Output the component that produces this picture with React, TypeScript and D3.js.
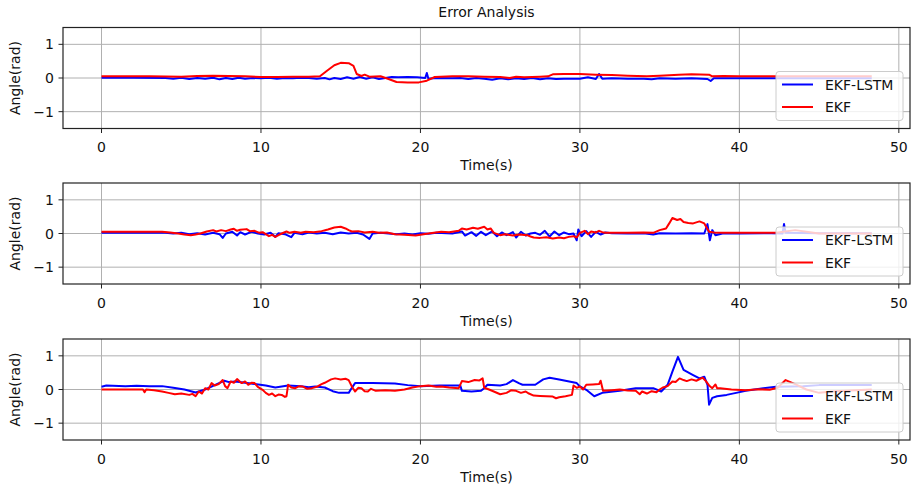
import * as d3 from 'd3';

type Pt = [number, number];

// time (s), angle error (rad)
const lstm1: Pt[] = [[0,0.01],[2,0.01],[4,0.0],[4.5,-0.02],[5,0.01],[5.5,-0.03],[6,0.0],[6.5,-0.02],[7,0.01],[7.4,-0.04],[7.8,0.0],[8.2,-0.03],[8.6,0.01],[9,-0.02],[9.5,0.0],[10,-0.01],[10.5,0.01],[11,-0.02],[11.5,0.0],[12,-0.01],[12.5,0.01],[13,0.0],[13.5,-0.02],[14,0.0],[14.3,-0.04],[14.6,0.0],[15,-0.03],[15.4,0.02],[15.8,-0.02],[16.2,0.03],[16.6,-0.02],[17,0.02],[17.4,-0.03],[17.8,0.0],[18.2,0.03],[18.6,0.02],[19.2,0.03],[19.8,0.02],[20.3,0.0],[20.4,0.15],[20.5,-0.02],[21,0.0],[22,-0.01],[22.5,0.0],[23,-0.03],[23.5,0.0],[24,-0.02],[24.5,-0.05],[25,-0.01],[25.5,-0.04],[26,-0.01],[26.5,-0.03],[27,0.0],[27.5,-0.04],[28,-0.01],[28.5,-0.03],[29,-0.02],[30,-0.02],[30.5,0.02],[31,-0.03],[31.2,0.12],[31.4,-0.02],[32,-0.01],[33,-0.02],[34,-0.02],[34.5,-0.04],[35,-0.01],[36,-0.02],[37,-0.01],[38,-0.03],[38.2,-0.09],[38.4,-0.01],[39,-0.01],[40,-0.01],[42,-0.01],[45,-0.01],[48.3,-0.01]];
const ekf1: Pt[] = [[0,0.05],[3,0.05],[5,0.04],[6,0.06],[7,0.07],[8,0.06],[9,0.05],[10,0.03],[11,0.03],[12,0.04],[13,0.04],[13.7,0.05],[14.1,0.2],[14.6,0.38],[15.0,0.45],[15.5,0.44],[15.8,0.36],[16.0,0.12],[16.3,0.06],[16.5,0.1],[16.8,0.04],[17.5,0.05],[18.0,-0.03],[18.5,-0.12],[19.2,-0.13],[19.9,-0.13],[20.4,-0.08],[20.9,0.03],[22,0.05],[23,0.05],[24,0.04],[25,0.03],[25.6,0.0],[26,0.04],[26.5,0.02],[27.5,0.04],[28.0,0.05],[28.3,0.11],[29,0.12],[30,0.12],[31,0.1],[32,0.09],[33,0.07],[34.2,0.05],[35,0.07],[36.2,0.1],[37,0.11],[38.1,0.1],[38.3,0.05],[39,0.06],[40,0.05],[42,0.05],[45,0.05],[48.3,0.05]];

const lstm2: Pt[] = [[0,0.02],[2,0.02],[4,0.02],[4.5,0.0],[5,0.02],[5.5,-0.02],[6,0.01],[6.5,-0.03],[7,0.02],[7.4,-0.02],[7.6,-0.13],[7.8,0.0],[8.2,0.05],[8.5,-0.06],[8.7,0.04],[9,-0.03],[9.4,0.05],[9.8,0.0],[10.2,-0.03],[10.6,0.02],[10.9,-0.1],[11.1,0.01],[11.5,-0.02],[11.9,-0.11],[12.1,0.02],[12.6,-0.02],[13,0.03],[13.5,0.0],[14,0.02],[14.5,-0.02],[15,0.03],[15.5,0.0],[16,0.02],[16.4,-0.03],[16.8,-0.16],[17.0,0.0],[17.5,0.02],[18,0.0],[18.5,-0.02],[19,0.0],[19.5,-0.03],[20,0.01],[20.5,-0.01],[21,0.02],[22,0.0],[22.6,0.06],[22.8,-0.06],[23.2,0.04],[23.5,-0.07],[23.8,0.05],[24.1,-0.05],[24.5,0.06],[24.8,-0.08],[25.1,0.03],[25.4,-0.05],[25.8,0.04],[26.0,-0.12],[26.3,0.05],[26.6,-0.06],[26.9,0.0],[27.2,0.02],[27.5,-0.04],[27.8,0.08],[28.1,-0.09],[28.4,0.06],[28.7,-0.05],[29.0,0.03],[29.3,-0.02],[29.6,0.0],[29.8,-0.2],[29.9,0.12],[30.1,-0.08],[30.4,0.07],[30.7,-0.1],[31.0,0.05],[31.3,-0.03],[31.6,0.03],[32,0.01],[33,0.0],[34,0.01],[34.6,-0.03],[35,0.01],[36,0.0],[37,0.01],[37.8,0.0],[38.0,0.28],[38.15,-0.2],[38.3,0.1],[38.5,-0.05],[39,0.01],[40,0.0],[42,0.01],[42.7,0.0],[42.8,0.28],[42.9,0.02],[45,0.01],[48.3,0.01]];
const ekf2: Pt[] = [[0,0.05],[2,0.05],[3.8,0.05],[4.3,0.03],[4.8,0.0],[5.2,-0.03],[5.6,-0.05],[5.9,-0.03],[6.2,0.0],[6.6,0.06],[7.0,0.1],[7.2,0.06],[7.5,0.1],[7.8,0.07],[8.1,0.12],[8.3,0.14],[8.5,0.08],[8.7,0.11],[9.1,0.13],[9.3,0.07],[9.6,0.08],[9.9,0.02],[10.1,0.04],[10.5,-0.08],[10.7,-0.04],[10.9,-0.1],[11.1,-0.05],[11.3,0.0],[11.6,0.06],[11.8,0.02],[12.1,0.05],[12.5,0.02],[12.8,0.05],[13.3,0.04],[13.8,0.07],[14.2,0.12],[14.6,0.18],[15.0,0.2],[15.3,0.15],[15.5,0.1],[15.7,0.06],[16.1,0.07],[16.5,0.03],[17.0,0.05],[17.4,0.02],[17.9,0.03],[18.4,-0.02],[19.0,-0.04],[19.7,-0.06],[20.1,-0.03],[20.5,0.0],[21.3,0.05],[21.8,0.04],[22.4,0.08],[22.6,0.15],[22.9,0.12],[23.3,0.17],[23.6,0.14],[24.0,0.2],[24.2,0.12],[24.4,0.15],[24.6,0.02],[25.0,-0.05],[25.3,-0.02],[25.8,-0.06],[26.2,-0.03],[26.7,-0.05],[26.9,-0.09],[27.1,-0.12],[27.5,-0.13],[27.9,-0.11],[28.3,-0.15],[28.7,-0.12],[29.0,-0.14],[29.3,-0.1],[29.6,-0.08],[29.8,-0.12],[30.0,0.02],[30.3,0.08],[30.5,-0.02],[30.7,0.06],[31.0,0.03],[31.2,0.08],[31.4,0.04],[31.6,0.02],[32,0.02],[33,0.02],[34,0.03],[34.6,0.02],[35.0,0.1],[35.4,0.15],[35.6,0.3],[35.8,0.46],[36.1,0.4],[36.3,0.43],[36.5,0.34],[36.8,0.31],[37.1,0.3],[37.3,0.33],[37.5,0.36],[37.8,0.3],[38.1,0.05],[38.4,0.03],[39,0.02],[42.3,0.02],[43.5,0.1],[45,0.0],[48.3,0.0]];

const lstm3: Pt[] = [[0,0.08],[0.3,0.12],[1.5,0.1],[2.2,0.11],[3,0.1],[3.8,0.1],[4.5,0.05],[5.2,0.0],[5.9,-0.09],[6.5,0.0],[7.2,0.15],[7.7,0.26],[8.0,0.22],[8.4,0.24],[9.0,0.2],[9.6,0.16],[10.3,0.12],[10.9,0.06],[11.3,0.09],[11.7,0.12],[12.5,0.1],[13.0,0.07],[13.4,0.09],[14.0,0.06],[14.5,-0.05],[14.9,-0.1],[15.5,-0.1],[15.7,0.05],[15.9,0.19],[17,0.19],[18.4,0.18],[19.2,0.13],[20.0,0.1],[21.2,0.12],[22.5,0.12],[22.6,-0.04],[23.2,-0.06],[23.8,-0.04],[24.0,0.04],[24.2,0.14],[25.0,0.12],[25.4,0.16],[25.8,0.28],[26.2,0.18],[26.4,0.14],[27.2,0.14],[27.7,0.3],[28.1,0.35],[28.7,0.3],[29.8,0.19],[30.0,0.09],[30.4,-0.01],[30.9,-0.2],[31.4,-0.1],[32.5,-0.04],[33.5,0.04],[34.6,0.04],[35.1,-0.06],[35.5,0.14],[35.8,0.53],[36.15,0.97],[36.5,0.58],[37.1,0.43],[37.5,0.33],[37.8,0.38],[38.0,0.14],[38.1,-0.45],[38.3,-0.25],[38.6,-0.2],[39.2,-0.16],[39.8,-0.1],[40.4,-0.04],[41.5,0.04],[42.3,0.08],[44,0.1],[45,0.13],[48.3,0.13]];
const ekf3: Pt[] = [[0,0.0],[1.5,0.0],[2.6,0.0],[2.7,-0.08],[2.8,0.0],[3.3,-0.02],[3.8,-0.06],[4.2,-0.1],[4.6,-0.14],[5.0,-0.12],[5.5,-0.16],[5.7,-0.13],[5.9,-0.2],[6.1,-0.06],[6.3,-0.12],[6.5,0.04],[6.7,0.0],[6.9,0.19],[7.1,0.12],[7.35,0.16],[7.6,0.28],[7.75,0.1],[7.9,0.04],[8.1,0.24],[8.3,0.2],[8.5,0.31],[8.7,0.22],[8.8,0.19],[9.0,0.24],[9.2,0.14],[9.4,0.2],[9.6,0.19],[9.8,0.08],[10.1,-0.01],[10.3,-0.1],[10.5,-0.16],[10.7,-0.12],[10.9,-0.2],[11.1,-0.15],[11.3,-0.16],[11.5,-0.22],[11.6,-0.2],[11.7,0.14],[11.9,0.06],[12.15,0.04],[12.4,0.1],[12.6,0.09],[12.9,0.02],[13.2,0.04],[13.5,0.08],[13.8,0.16],[14.0,0.2],[14.2,0.25],[14.4,0.3],[14.65,0.33],[15.0,0.3],[15.3,0.32],[15.5,0.28],[15.7,0.09],[15.9,-0.06],[16.1,0.05],[16.3,0.04],[16.5,-0.05],[16.7,-0.06],[16.9,0.02],[17.2,-0.04],[17.8,-0.02],[18.4,-0.04],[19.0,0.0],[19.5,0.06],[20.0,0.1],[20.5,0.12],[21.0,0.08],[21.3,0.09],[21.8,0.06],[22.4,0.04],[22.6,0.25],[23.0,0.22],[23.4,0.28],[23.7,0.27],[23.9,0.33],[24.0,0.05],[24.3,0.0],[24.6,-0.06],[25.0,-0.14],[25.4,-0.1],[25.7,-0.02],[26.0,-0.04],[26.3,-0.1],[26.6,-0.06],[26.8,-0.12],[27.1,-0.18],[27.5,-0.19],[27.9,-0.2],[28.3,-0.21],[28.5,-0.26],[28.7,-0.23],[29.1,-0.2],[29.5,-0.16],[29.6,0.12],[29.8,0.05],[30.0,0.09],[30.2,0.0],[30.4,0.14],[30.8,0.15],[31.2,0.16],[31.3,0.26],[31.45,-0.04],[32,-0.02],[32.5,0.0],[33.0,-0.03],[33.5,-0.04],[33.75,-0.14],[33.9,-0.06],[34.2,-0.12],[34.5,-0.05],[34.8,-0.08],[35.0,0.0],[35.2,0.06],[35.5,0.1],[35.8,0.24],[36.0,0.22],[36.25,0.33],[36.5,0.28],[36.7,0.25],[37.0,0.3],[37.3,0.26],[37.7,0.35],[37.9,0.25],[38.1,0.12],[38.3,0.04],[38.5,0.15],[38.6,0.04],[38.8,0.04],[39.5,0.0],[40.4,-0.02],[41.2,0.01],[41.9,-0.01],[42.4,0.05],[42.9,0.28],[43.5,0.16],[44.2,0.0],[45,-0.1],[46,-0.05],[48.3,0.0]];

const panels = [
  { lstm: lstm1, ekf: ekf1 },
  { lstm: lstm2, ekf: ekf2 },
  { lstm: lstm3, ekf: ekf3 },
];

const xTicks = [0, 10, 20, 30, 40, 50];
const yTicks = [-1, 0, 1];
const seriesNames = ['EKF-LSTM', 'EKF'];
const seriesColors = ['#0000ff', '#ff0000'];

const W = 913;
const H = 489;
const left = 63;
const right = 910;
const panelTops = [27.5, 183, 339];
const panelH = 101;
const font = 'DejaVu Sans, sans-serif';

const x = d3.scaleLinear().domain([-2.415, 50.7]).range([left, right]);

function Panel({ idx }: { idx: number }) {
  const top = panelTops[idx];
  const bottom = top + panelH;
  const y = d3.scaleLinear().domain([-1.5, 1.5]).range([bottom, top]);
  const line = d3
    .line<Pt>()
    .x((d) => x(d[0]))
    .y((d) => y(d[1]));
  const { lstm, ekf } = panels[idx];
  const clipId = `clip${idx}`;
  const lx = right - 134;
  const ly = bottom - 57;

  return (
    <g>
      <defs>
        <clipPath id={clipId}>
          <rect x={left} y={top} width={right - left} height={panelH} />
        </clipPath>
      </defs>
      {xTicks.map((t) => (
        <line key={'gx' + t} x1={x(t)} x2={x(t)} y1={top} y2={bottom} stroke="#b0b0b0" strokeWidth={1} />
      ))}
      {yTicks.map((t) => (
        <line key={'gy' + t} x1={left} x2={right} y1={y(t)} y2={y(t)} stroke="#b0b0b0" strokeWidth={1} />
      ))}
      <g clipPath={`url(#${clipId})`}>
        <path d={line(lstm) || ''} fill="none" stroke={seriesColors[0]} strokeWidth={2} strokeLinejoin="round" />
        <path d={line(ekf) || ''} fill="none" stroke={seriesColors[1]} strokeWidth={2} strokeLinejoin="round" />
      </g>
      <rect x={left} y={top} width={right - left} height={panelH} fill="none" stroke="#222" strokeWidth={1.2} />
      {xTicks.map((t) => (
        <g key={'tx' + t}>
          <line x1={x(t)} x2={x(t)} y1={bottom} y2={bottom + 4.5} stroke="#222" strokeWidth={1} />
          <text x={x(t)} y={bottom + 23.5} textAnchor="middle" fontSize={14} fontFamily={font} fill="#111">
            {t}
          </text>
        </g>
      ))}
      {yTicks.map((t) => (
        <g key={'ty' + t}>
          <line x1={left - 4.5} x2={left} y1={y(t)} y2={y(t)} stroke="#222" strokeWidth={1} />
          <text x={left - 9} y={y(t) + 5} textAnchor="end" fontSize={14} fontFamily={font} fill="#111">
            {t < 0 ? '\u2212' + Math.abs(t) : t}
          </text>
        </g>
      ))}
      <text x={(left + right) / 2} y={bottom + 41.5} textAnchor="middle" fontSize={14} fontFamily={font} fill="#111">
        Time(s)
      </text>
      <text
        transform={`translate(20,${(top + bottom) / 2}) rotate(-90)`}
        textAnchor="middle"
        fontSize={14}
        fontFamily={font}
        fill="#111"
      >
        Angle(rad)
      </text>
      <rect x={lx} y={ly} width={127} height={49} rx={3} fill="#fff" fillOpacity={0.8} stroke="#ccc" strokeWidth={1} />
      {seriesNames.map((name, i) => (
        <g key={name}>
          <line
            x1={lx + 6}
            x2={lx + 37}
            y1={ly + 13 + i * 22.5}
            y2={ly + 13 + i * 22.5}
            stroke={seriesColors[i]}
            strokeWidth={2}
          />
          <text x={lx + 49} y={ly + 18 + i * 22.5} fontSize={14} fontFamily={font} fill="#111">
            {name}
          </text>
        </g>
      ))}
    </g>
  );
}

export default function App() {
  return (
    <div style={{ position: 'absolute', left: 0, top: 0 }}>
      <svg width={W} height={H} style={{ display: 'block', background: '#fff' }}>
        <text x={(left + right) / 2} y={17} textAnchor="middle" fontSize={14} fontFamily={font} fill="#111">
          Error Analysis
        </text>
        {panelTops.map((_, i) => (
          <Panel key={i} idx={i} />
        ))}
      </svg>
    </div>
  );
}
